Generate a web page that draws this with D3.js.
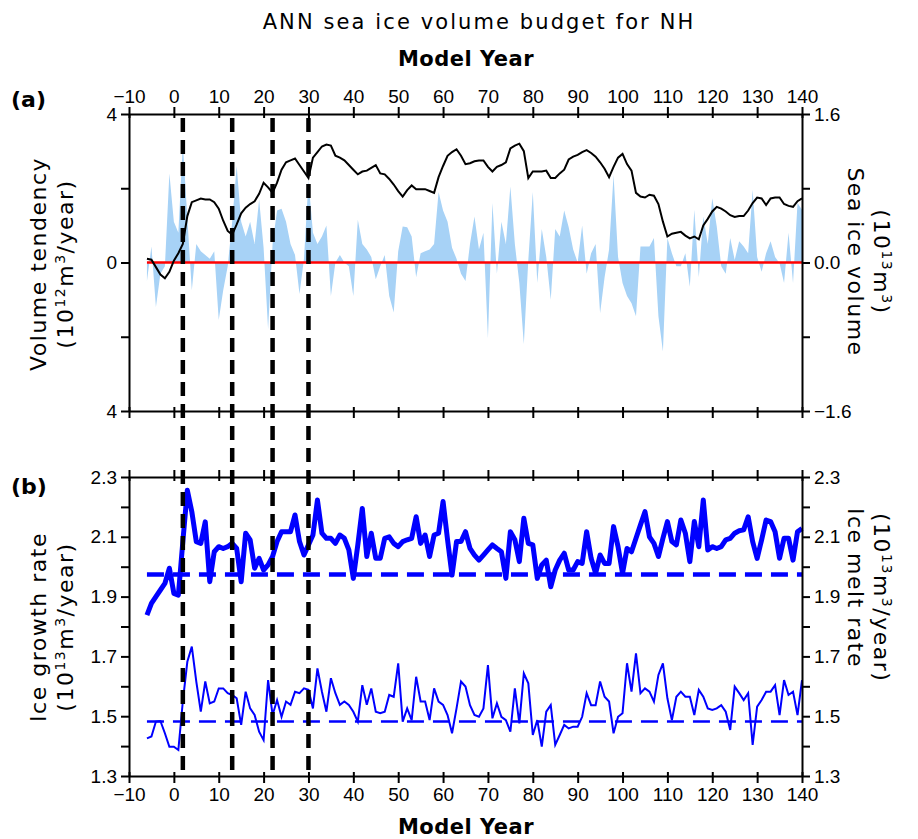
<!DOCTYPE html>
<html>
<head>
<meta charset="utf-8">
<script src="https://d3js.org/d3.v7.min.js"></script>
<style>
  body { margin: 0; background: #fff; }
  svg { font-family: "DejaVu Sans", "Liberation Sans", sans-serif; }
  .axis path, .axis line { stroke: #000; stroke-width: 2; }
  .axis text { font-family: "Liberation Sans Narrow", "Arial Narrow", "Liberation Sans", sans-serif; font-size: 19px; fill: #000; }
  .ttl { font-size: 22px; fill: #000; letter-spacing: 1.5px; }
</style>
</head>
<body>
<div id="chart"></div>
<script>
// ---- data, annual values from model year -6 to 140 ----
var firstYear = -6;

// (a) volume tendency, 10^12 m^3/year (blue fill)
var tendency = [
  -0.5, 0.43, -1.2, -0.3, -0.1, 2.4, 1.1, 0.8, 3.2, 1.2,
  -0.75, 0.5, 0.3, 0.2, 0.1, 0.3, -1.55, -0.75, -0.1, 1.1,
  2.6, 1.1, 0.7, 1.1, 0.5, 1.7, 0.4, -1.8, 0.5, 1.4,
  1.45, 1.1, 0.5, 0.2, -0.85, 0.1, 2.2, 0.8, 0.5, 0.7,
  1.0, -0.9, 0.0, 0.2, 0.0, -0.1, -0.9, 1.15, 0.5, 0.35,
  0.15, -0.45, -0.1, 0.2, -0.9, -1.35, 0.3, 0.97, 0.95, 0.7,
  -0.4, 0.25, 0.3, 0.35, 0.5, 1.9, 1.4, 1.1, 0.4, 0.1,
  -0.3, -0.5, 0.5, 1.24, 0.35, 0.8, -2.04, 1.6, -0.3, 1.1,
  0.5, 2.05, 0.5, -0.55, -2.2, 0.07, 1.9, -0.55, 0.9, 0.15,
  -1.0, 0.9, 0.7, 1.4, 0.95, 0.35, 0.0, 1.0, -0.3, 0.25,
  0.5, -1.37, -0.4, 0.35, 2.36, 0.15, -0.55, -0.9, -1.1, -1.45,
  0.43, 0.43, 0.43, 0.66, -1.45, -2.4, 0.66, 0.25, -0.1, -0.1,
  0.25, -0.65, 1.42, -0.4, 1.24, 0.5, 1.73, 0.97, -0.1, -0.3,
  0.66, 0.07, 0.57, 0.43, 0.25, 1.96, 0.15, -0.25, 0.25, 0.57,
  0.15, -0.02, -0.55, 0.8, -0.55, 1.6, 1.42
];

// (a) sea ice volume anomaly, 10^13 m^3 (black line)
var volume = [
  0.04, 0.03, -0.05, -0.13, -0.17, -0.10, 0.02, 0.10, 0.20, 0.50,
  0.65, 0.67, 0.69, 0.68, 0.68, 0.65, 0.58, 0.45, 0.34, 0.30,
  0.41, 0.53, 0.59, 0.63, 0.66, 0.74, 0.86, 0.81, 0.75, 0.86,
  1.00, 1.08, 1.10, 1.12, 1.05, 0.98, 0.91, 1.13, 1.19, 1.25,
  1.27, 1.26, 1.15, 1.13, 1.10, 1.05, 1.00, 0.95, 0.98, 0.99,
  1.02, 1.05, 0.96, 0.95, 0.90, 0.84, 0.77, 0.71, 0.78, 0.83,
  0.79, 0.79, 0.79, 0.77, 0.75, 0.92, 1.04, 1.15, 1.19, 1.22,
  1.15, 1.06, 1.07, 1.09, 1.10, 1.10, 1.03, 0.98, 1.03, 1.05,
  1.08, 1.23, 1.26, 1.28, 1.20, 0.91, 0.98, 0.98, 0.98, 0.99,
  0.91, 0.91, 0.96, 1.00, 1.11, 1.14, 1.16, 1.19, 1.21, 1.18,
  1.14, 1.08, 1.01, 0.92, 1.03, 1.13, 1.17, 1.06, 0.99, 0.75,
  0.71, 0.70, 0.73, 0.72, 0.63, 0.44, 0.28, 0.31, 0.32, 0.33,
  0.29, 0.26, 0.28, 0.25, 0.40, 0.47, 0.55, 0.60, 0.58, 0.55,
  0.51, 0.49, 0.50, 0.50, 0.56, 0.64, 0.70, 0.69, 0.62, 0.69,
  0.70, 0.70, 0.63, 0.61, 0.60, 0.66, 0.69
];

// (b) ice growth rate, 10^13 m^3/year (thick blue)
var growth = [
  1.838, 1.877, 1.90, 1.922, 1.944, 1.995, 1.911, 1.905, 2.084, 2.256,
  2.184, 2.084, 2.078, 2.15, 1.95, 2.05, 2.067, 2.061, 2.067, 2.078,
  2.061, 1.95, 2.112, 2.09, 1.995, 2.028, 1.989, 2.006, 2.034, 2.084,
  2.117, 2.117, 2.117, 2.173, 2.084, 2.039, 2.073, 2.106, 2.223, 2.112,
  2.095, 2.095, 2.078, 2.106, 2.095, 2.056, 1.961, 2.073, 2.195, 2.034,
  2.112, 2.028, 2.028, 2.095, 2.10, 2.078, 2.067, 2.084, 2.09, 2.095,
  2.167, 2.078, 2.106, 2.034, 2.106, 2.112, 2.218, 2.09, 1.972, 2.084,
  2.084, 2.117, 2.061, 2.039, 2.022, 2.039, 2.056, 2.073, 2.061, 2.05,
  1.961, 2.117, 2.09, 2.017, 2.162, 2.078, 2.073, 1.961, 2.006, 2.022,
  1.933, 1.989, 2.022, 2.045, 1.989, 1.989, 2.017, 2.011, 2.117, 2.028,
  1.978, 2.039, 2.011, 2.011, 2.134, 2.067, 1.978, 2.061, 2.05, 2.095,
  2.14, 2.184, 2.10, 2.078, 2.034, 2.095, 2.151, 2.084, 2.073, 2.156,
  2.112, 2.017, 2.151, 2.067, 2.223, 2.056, 2.067, 2.061, 2.067, 2.09,
  2.095, 2.112, 2.12, 2.123, 2.167, 2.084, 2.028, 2.09, 2.156, 2.151,
  2.117, 2.028, 2.095, 2.095, 2.022, 2.117, 2.128
];

// (b) ice melt rate, 10^13 m^3/year (thin blue)
var melt = [
  1.426, 1.432, 1.482, 1.484, 1.443, 1.398, 1.398, 1.387, 1.55, 1.682,
  1.733, 1.616, 1.515, 1.616, 1.543, 1.549, 1.593, 1.593, 1.577, 1.571,
  1.56, 1.471, 1.582, 1.526, 1.504, 1.448, 1.42, 1.621, 1.504, 1.554,
  1.498, 1.549, 1.538, 1.582, 1.577, 1.593, 1.588, 1.526, 1.66, 1.582,
  1.515, 1.627, 1.577, 1.538, 1.549, 1.538, 1.515, 1.482, 1.604, 1.538,
  1.593, 1.515, 1.51, 1.515, 1.571, 1.565, 1.677, 1.482, 1.526, 1.487,
  1.632, 1.549, 1.549, 1.487, 1.593, 1.549, 1.538, 1.504, 1.443, 1.526,
  1.616, 1.599, 1.537, 1.504, 1.498, 1.526, 1.671, 1.493, 1.543, 1.498,
  1.487, 1.448, 1.593, 1.476, 1.643, 1.61, 1.437, 1.487, 1.398, 1.515,
  1.537, 1.404, 1.437, 1.471, 1.459, 1.465, 1.465, 1.498, 1.577, 1.537,
  1.537, 1.616, 1.565, 1.549, 1.443, 1.498, 1.51, 1.677, 1.582, 1.71,
  1.577, 1.593, 1.582, 1.549, 1.638, 1.677, 1.56, 1.487, 1.565, 1.582,
  1.565, 1.565, 1.504, 1.588, 1.565, 1.526, 1.521, 1.526, 1.537, 1.515,
  1.454, 1.599, 1.577, 1.554, 1.577, 1.404, 1.532, 1.554, 1.582, 1.582,
  1.604, 1.504, 1.621, 1.571, 1.582, 1.504, 1.621
];

var growthMean = 1.974;
var meltMean = 1.482;
var markYears = [2, 13, 22, 30];

var xTicks = [-10, 0, 10, 20, 30, 40, 50, 60, 70, 80, 90, 100, 110, 120, 130, 140];
var tendTicks = [-4, -2, 0, 2, 4];
var tendLabels = ["4", "", "0", "", "4"];
var volTicks = [-1.6, -0.8, 0, 0.8, 1.6];
var volLabels = ["\u22121.6", "", "0.0", "", "1.6"];
var rateTicks = [1.3, 1.4, 1.5, 1.6, 1.7, 1.8, 1.9, 2.0, 2.1, 2.2, 2.3];
var rateLabels = ["1.3", "", "1.5", "", "1.7", "", "1.9", "", "2.1", "", "2.3"];

// ---- layout ----
var W = 918, H = 839;
var left = 129, right = 802;
var aTop = 114, aBot = 411, bTop = 477, bBot = 776;

var svg = d3.select("#chart").append("svg")
    .attr("width", W).attr("height", H);

var x = d3.scaleLinear().domain([-10, 140]).range([left, right]);
var yTend = d3.scaleLinear().domain([-4, 4]).range([aBot, aTop]);
var yVol = d3.scaleLinear().domain([-1.6, 1.6]).range([aBot, aTop]);
var yRate = d3.scaleLinear().domain([1.3, 2.3]).range([bBot, bTop]);

function rows(arr) {
    return arr.map(function(v, i) { return { year: firstYear + i, v: v }; });
}

// ---- panel (a) ----
svg.append("path")
    .datum(rows(tendency))
    .attr("fill", "#a7d2f6")
    .attr("d", d3.area().x(d => x(d.year)).y0(yTend(0)).y1(d => yTend(d.v)));

svg.append("line")
    .attr("x1", x(firstYear)).attr("x2", right)
    .attr("y1", yTend(0)).attr("y2", yTend(0))
    .attr("stroke", "#ff0000").attr("stroke-width", 2.5);

svg.append("path")
    .datum(rows(volume))
    .attr("fill", "none").attr("stroke", "#000").attr("stroke-width", 2)
    .attr("d", d3.line().x(d => x(d.year)).y(d => yVol(d.v)));

// ---- panel (b) ----
[[growthMean, 4.5], [meltMean, 2.5]].forEach(function(m) {
    svg.append("line")
        .attr("x1", x(firstYear)).attr("x2", x(140))
        .attr("y1", yRate(m[0])).attr("y2", yRate(m[0]))
        .attr("stroke", "#0000ff").attr("stroke-width", m[1])
        .attr("stroke-dasharray", "17,9");
});

svg.append("path")
    .datum(rows(growth))
    .attr("fill", "none").attr("stroke", "#0000ff").attr("stroke-width", 5)
    .attr("stroke-linejoin", "round")
    .attr("d", d3.line().x(d => x(d.year)).y(d => yRate(d.v)));

svg.append("path")
    .datum(rows(melt))
    .attr("fill", "none").attr("stroke", "#0000ff").attr("stroke-width", 2)
    .attr("d", d3.line().x(d => x(d.year)).y(d => yRate(d.v)));

// vertical dashed marks through both panels
svg.selectAll(".mark")
    .data(markYears).enter()
    .append("line")
    .attr("class", "mark")
    .attr("x1", d => x(d)).attr("x2", d => x(d))
    .attr("y1", aTop + 4).attr("y2", bBot)
    .attr("stroke", "#000").attr("stroke-width", 4.5)
    .attr("stroke-dasharray", "14,8");

// ---- axes ----
function addAxis(axis, tx, ty, inward) {
    var g = svg.append("g").attr("class", "axis")
        .attr("transform", "translate(" + tx + "," + ty + ")")
        .call(axis);
    g.selectAll(".tick line").each(function() {
        var l = d3.select(this);
        if (l.attr("y2") !== null && +l.attr("y2") !== 0) l.attr("y1", inward);
        else if (l.attr("x2") !== null && +l.attr("x2") !== 0) l.attr("x1", inward);
    });
    return g;
}
var fmtX = d => (d < 0 ? "\u2212" + Math.abs(d) : String(d));
var fmtIdx = (labels, ticks) => d => labels[ticks.indexOf(d)];

addAxis(d3.axisTop(x).tickValues(xTicks).tickSize(7).tickSizeOuter(0).tickFormat(fmtX).tickPadding(4), 0, aTop, 4);
addAxis(d3.axisBottom(x).tickValues(xTicks).tickSize(7).tickSizeOuter(0).tickFormat(""), 0, aBot, -4);
addAxis(d3.axisLeft(yTend).tickValues(tendTicks).tickSize(8).tickSizeOuter(0).tickFormat(fmtIdx(tendLabels, tendTicks)).tickPadding(4), left, 0, 0);
addAxis(d3.axisRight(yVol).tickValues(volTicks).tickSize(8).tickSizeOuter(0).tickFormat(fmtIdx(volLabels, volTicks)).tickPadding(4), right, 0, 0);

addAxis(d3.axisTop(x).tickValues(xTicks).tickSize(7).tickSizeOuter(0).tickFormat(""), 0, bTop, 4);
addAxis(d3.axisBottom(x).tickValues(xTicks).tickSize(7).tickSizeOuter(0).tickFormat(fmtX).tickPadding(5), 0, bBot, -4);
addAxis(d3.axisLeft(yRate).tickValues(rateTicks).tickSize(8).tickSizeOuter(0).tickFormat(fmtIdx(rateLabels, rateTicks)).tickPadding(4), left, 0, 0);
addAxis(d3.axisRight(yRate).tickValues(rateTicks).tickSize(8).tickSizeOuter(0).tickFormat(fmtIdx(rateLabels, rateTicks)).tickPadding(4), right, 0, 0);

// ---- titles and labels ----
svg.append("text").attr("class", "ttl")
    .attr("x", 479).attr("y", 29).attr("text-anchor", "middle")
    .style("font-size", "21px").style("letter-spacing", "2.1px")
    .text("ANN sea ice volume budget for NH");

[66, 834].forEach(function(yy) {
    svg.append("text").attr("class", "ttl")
        .attr("x", 466).attr("y", yy).attr("text-anchor", "middle")
        .style("font-size", "21px").style("font-weight", "bold").style("letter-spacing", "0.5px")
        .text("Model Year");
});

svg.append("text").attr("x", 11).attr("y", 107)
    .style("font-size", "22px").style("font-weight", "bold").text("(a)");
svg.append("text").attr("x", 11).attr("y", 494)
    .style("font-size", "22px").style("font-weight", "bold").text("(b)");

function sideLabel(cx, cy, rot, parts, anchor) {
    var t = svg.append("text").attr("class", "ttl")
        .attr("text-anchor", anchor || "middle")
        .attr("transform", "translate(" + cx + "," + cy + ") rotate(" + rot + ")");
    parts.forEach(function(p) {
        var s = t.append("tspan").text(p[0]);
        if (p[1]) s.style("font-size", "14px").attr("baseline-shift", "super");
    });
}
var unit12yr = [["(10"], ["12", 1], ["m"], ["3", 1], ["/year)"]];
var unit13yr = [["(10"], ["13", 1], ["m"], ["3", 1], ["/year)"]];
var unit13 = [["(10"], ["13", 1], ["m"], ["3", 1], [")"]];

sideLabel(46, 264, -90, [["Volume tendency"]]);
sideLabel(73, 264, -90, unit12yr);
sideLabel(848, 262, 90, [["Sea ice volume"]]);
sideLabel(874, 262, 90, unit13);

sideLabel(46, 627, -90, [["Ice growth rate"]]);
sideLabel(73, 627, -90, unit13yr);
sideLabel(848, 508, 90, [["Ice melt rate"]], "start");
sideLabel(874, 513, 90, unit13yr, "start");
</script>
</body>
</html>
